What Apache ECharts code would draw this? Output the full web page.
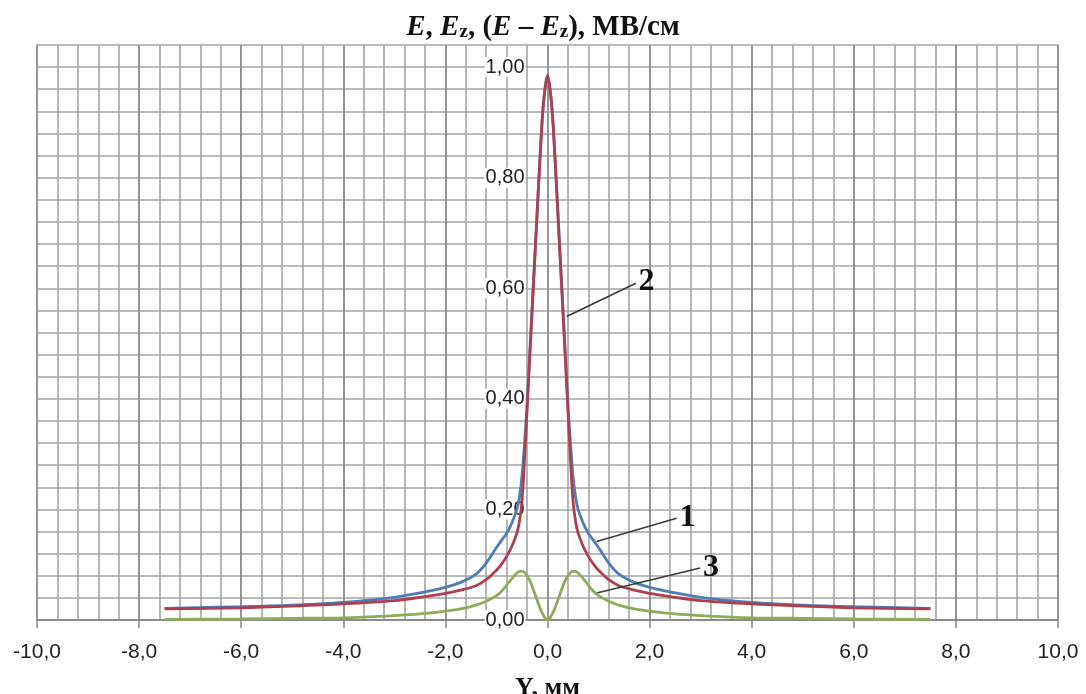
<!DOCTYPE html>
<html>
<head>
<meta charset="utf-8">
<script src="https://cdn.jsdelivr.net/npm/echarts@6/dist/echarts.min.js"></script>
<style>html,body{margin:0;padding:0;background:#fff}#c{width:1086px;height:694px}</style>
</head>
<body>
<div id="c"></div>
<script>
// Y, mm positions
const yPos = [-7.5,-6,-5,-4,-3,-2.5,-2,-1.7,-1.4,-1.2,-1,-0.9,-0.8,-0.7,-0.6,-0.55,-0.5,-0.45,-0.4,-0.35,-0.3,-0.25,-0.2,-0.15,-0.1,-0.05,
  0,
  0.05,0.1,0.15,0.2,0.25,0.3,0.35,0.4,0.45,0.5,0.55,0.6,0.7,0.8,0.9,1,1.2,1.4,1.7,2,2.5,3,4,5,6,7.5];
// Curve 1: E
const curveE = [0.021,0.024,0.027,0.032,0.041,0.049,0.059,0.068,0.083,0.103,0.131,0.144,0.157,0.175,0.2,0.222,0.26,0.32,0.39,0.48,0.57,0.655,0.745,0.83,0.91,0.96,
  0.985,
  0.96,0.91,0.83,0.745,0.655,0.57,0.48,0.39,0.32,0.26,0.222,0.2,0.175,0.157,0.144,0.131,0.103,0.083,0.068,0.059,0.049,0.041,0.032,0.027,0.024,0.021];
// Curve 2: Ez
const curveEz = [0.020,0.022,0.025,0.029,0.035,0.041,0.048,0.054,0.062,0.073,0.09,0.101,0.115,0.133,0.157,0.178,0.215,0.29,0.38,0.47,0.56,0.65,0.74,0.83,0.91,0.96,
  0.985,
  0.96,0.91,0.83,0.74,0.65,0.56,0.47,0.38,0.29,0.215,0.178,0.157,0.133,0.115,0.101,0.09,0.073,0.062,0.054,0.048,0.041,0.035,0.029,0.025,0.022,0.020];
// Curve 3: E - Ez
const curveDiff = [0.001,0.002,0.003,0.004,0.008,0.011,0.016,0.020,0.027,0.034,0.044,0.052,0.063,0.075,0.085,0.088,0.088,0.086,0.080,0.072,0.061,0.048,0.035,0.022,0.012,0.004,
  0,
  0.004,0.012,0.022,0.035,0.048,0.061,0.072,0.080,0.086,0.088,0.088,0.085,0.075,0.063,0.052,0.044,0.034,0.027,0.020,0.016,0.011,0.008,0.004,0.003,0.002,0.001];

const xTickValues = [-10,-8,-6,-4,-2,0,2,4,6,8,10];
const yTickValues = [0,0.2,0.4,0.6,0.8,1.0];

// leader lines (data coords): [start on curve], [end near label]
const leader1 = [[0.964,0.142],[2.53,0.184]];
const leader2 = [[0.376,0.549],[1.73,0.609]];
const leader3 = [[0.964,0.049],[2.99,0.094]];

const pair = (a,b)=>a.map((v,i)=>[v,b[i]]);
const fmt1 = v => v.toFixed(1).replace('.', ',');
const fmt2 = v => v.toFixed(2).replace('.', ',');
const isMult = (v, step) => Math.abs(v/step - Math.round(v/step)) < 1e-6;

const leaderMark = (seg, txt) => ({
  symbol: 'none', silent: true,
  lineStyle: {color: '#3a3a3a', width: 1.5, type: 'solid'},
  emphasis: {disabled: true},
  label: {show: true, position: 'end', formatter: txt, distance: 3,
    fontFamily: 'Liberation Serif', fontWeight: 'bold', fontSize: 32, color: '#111'},
  data: [[{coord: seg[0]}, {coord: seg[1]}]]
});

const GRID = {left: 37, right: 28, top: 45, bottom: 74};
const W = 1086;
const zeroX = GRID.left + (W - GRID.left - GRID.right) / 2;

const chart = echarts.init(document.getElementById('c'), null, {renderer: 'canvas'});
const serif = 'Liberation Serif';
chart.setOption({
  animation: false,
  backgroundColor: '#fff',
  title: {
    left: 'center', top: 8,
    text: '{i|E}{n|, }{i|E}{s|z}{n|, (}{i|E}{n| – }{i|E}{s|z}{n|), МВ/см}',
    textStyle: {
      rich: {
        i: {fontFamily: serif, fontWeight: 'bold', fontStyle: 'italic', fontSize: 29, color: '#111'},
        n: {fontFamily: serif, fontWeight: 'bold', fontSize: 29, color: '#111'},
        s: {fontFamily: serif, fontWeight: 'bold', fontSize: 19, color: '#111', verticalAlign: 'bottom', lineHeight: 24}
      }
    }
  },
  grid: Object.assign({outerBoundsMode: 'none', containLabel: false}, GRID),
  xAxis: [
    {type: 'value', min: -10, max: 10, interval: 0.4,
      axisLine: {show: true, onZero: false, lineStyle: {color: '#888', width: 1.5}},
      axisTick: {show: false}, axisLabel: {show: false},
      splitLine: {show: true, lineStyle: {color: '#a4a4a4', width: 1.6}}},
    {type: 'value', min: -10, max: 10, interval: 2, position: 'bottom',
      axisLine: {show: true, onZero: false, lineStyle: {color: '#888', width: 1.5}},
      axisTick: {show: true, length: 8, lineStyle: {color: '#888', width: 1.5}},
      axisLabel: {show: true, margin: 22, fontFamily: 'Liberation Sans', fontSize: 21, color: '#222',
        formatter: v => isMult(v, 2) ? fmt1(v) : ''},
      splitLine: {show: true, lineStyle: {color: '#8c8c8c', width: 1.6}},
      name: 'Y, мм', nameLocation: 'middle', nameGap: 55,
      nameTextStyle: {fontFamily: serif, fontWeight: 'bold', fontSize: 26, color: '#111'}}
  ],
  yAxis: [
    {type: 'value', min: 0, max: 1.04, interval: 0.04,
      axisLine: {show: true, onZero: false, lineStyle: {color: '#999', width: 1.5}},
      axisTick: {show: false}, axisLabel: {show: false},
      splitLine: {show: true, lineStyle: {color: '#a4a4a4', width: 1.6}}},
    {type: 'value', min: 0, max: 1.04, interval: 0.2, position: 'left',
      offset: -(zeroX - GRID.left),
      axisLine: {show: true, onZero: false, lineStyle: {color: '#999', width: 1.5}},
      axisTick: {show: false},
      splitLine: {show: false},
      axisLabel: {show: true, margin: 22, fontFamily: 'Liberation Sans', fontSize: 20, color: '#222',
        backgroundColor: '#fff', padding: [0, 1, 0, 1],
        formatter: v => isMult(v, 0.2) ? fmt2(v) : ''}}
  ],
  series: [
    {name: '1', type: 'line', xAxisIndex: 0, yAxisIndex: 0, data: pair(yPos, curveE),
      showSymbol: false, smooth: 0.3, lineStyle: {color: '#4f7db5', width: 2.8}, z: 3,
      markLine: leaderMark(leader1, '1')},
    {name: '2', type: 'line', xAxisIndex: 0, yAxisIndex: 0, data: pair(yPos, curveEz),
      showSymbol: false, smooth: 0.3, lineStyle: {color: '#ad3f4e', width: 2.8}, z: 4,
      markLine: leaderMark(leader2, '2')},
    {name: '3', type: 'line', xAxisIndex: 0, yAxisIndex: 0, data: pair(yPos, curveDiff),
      showSymbol: false, smooth: 0.3, lineStyle: {color: '#8eab5a', width: 2.8}, z: 5,
      markLine: leaderMark(leader3, '3')}
  ]
});
</script>
</body>
</html>
